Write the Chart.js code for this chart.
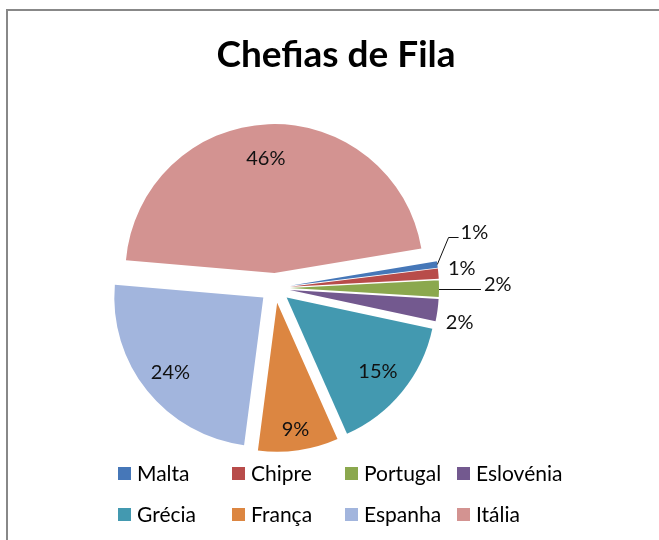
<!DOCTYPE html>
<html>
<head>
<meta charset="utf-8">
<script src="https://cdn.jsdelivr.net/npm/chart.js@4.4.1/dist/chart.umd.min.js"></script>
<style>
  html, body { margin: 0; padding: 0; background: #fff; overflow: hidden; }
  #wrap { position: relative; width: 659px; height: 540px; font-family: Lato, "DejaVu Sans", sans-serif; }
  #frame { position: absolute; left: 6px; top: 9px; width: 700px; height: 600px;
           border-top: 2px solid #888; border-left: 2px solid #888; }
  #title { position: absolute; left: 0; width: 672px; top: 31px; line-height: 44px;
           text-align: center; font-size: 37px; font-weight: bold; color: #000; }
  canvas { position: absolute; left: 0; top: 0; }
  .leg { position: absolute; font-size: 21px; line-height: 24px; color: #000; white-space: nowrap; padding-left: 19px; }
  .leg i { position: absolute; left: 0; top: 6px; width: 13px; height: 13px; }
</style>
</head>
<body>
<div id="wrap">
  <div id="frame"></div>
  <canvas id="pie" width="659" height="540"></canvas>
  <div id="title">Chefias de Fila</div>
  <div id="legend"></div>
</div>
<script>
const labels = ['Malta', 'Chipre', 'Portugal', 'Eslovénia', 'Grécia', 'França', 'Espanha', 'Itália'];
const shares = [0.7, 1.1, 1.8, 2.4, 15.0, 8.7, 24.3, 46.0];
const colors = ['#4677B8', '#B84C4A', '#8BA84E', '#73598F', '#4399B0', '#DC8641', '#A2B5DD', '#D39391'];

const explodePx = 15;
// where each percentage label sits: fraction of radius, angle tweak (deg), leader line type
const labelPlace = [
    { r: 1.29, da: -8, leader: 'elbow' },
    { r: 1.16, da: -1 },
    { leader: 'straight' },
    { r: 1.16, da: 3 },
    { r: 0.79, da: 0 },
    { r: 0.86, da: 0 },
    { r: 0.80, da: 0 },
    { r: 0.77, da: -2 }
];

const total = shares.reduce((s, v) => s + v, 0);

// legend, 4 columns x 2 rows like the original
const legendCols = [118, 232, 345, 457];
const legendRows = [461, 502];
const legendEl = document.getElementById('legend');
labels.forEach((name, i) => {
    const d = document.createElement('div');
    d.className = 'leg';
    d.style.left = legendCols[i % 4] + 'px';
    d.style.top = legendRows[Math.floor(i / 4)] + 'px';
    d.innerHTML = `<i style="background:${colors[i]}"></i>${name}`;
    legendEl.appendChild(d);
});

// pull every slice outward from the centre
const explodePlugin = {
    id: 'explode',
    afterDatasetUpdate(chart, args) {
        args.meta.data.forEach(arc => {
            const mid = (arc.startAngle + arc.endAngle) / 2;
            arc.x += Math.cos(mid) * explodePx;
            arc.y += Math.sin(mid) * explodePx;
        });
    }
};

// percentage labels
const pctPlugin = {
    id: 'pctLabels',
    afterDatasetsDraw(chart) {
        const ctx = chart.ctx;
        const arcs = chart.getDatasetMeta(0).data;
        ctx.save();
        ctx.font = '20px Lato, "DejaVu Sans", sans-serif';
        ctx.fillStyle = '#111';
        ctx.strokeStyle = '#111';
        ctx.lineWidth = 1;
        ctx.textAlign = 'center';
        ctx.textBaseline = 'middle';
        arcs.forEach((arc, i) => {
            const txt = Math.round(shares[i] / total * 100) + '%';
            const p = labelPlace[i];
            const mid = (arc.startAngle + arc.endAngle) / 2;
            const R = arc.outerRadius;
            const w = ctx.measureText(txt).width;
            if (p.leader === 'straight') {
                const ex = arc.x + Math.cos(mid) * R, ey = Math.round(arc.y + Math.sin(mid) * R) + 0.5;
                const left = ex + 45;
                ctx.beginPath();
                ctx.moveTo(ex, ey);
                ctx.lineTo(left - 3, ey);
                ctx.stroke();
                ctx.fillText(txt, left + w / 2, ey - 5);
                return;
            }
            const a = mid + p.da * Math.PI / 180;
            const cx = arc.x + Math.cos(a) * R * p.r;
            const cy = arc.y + Math.sin(a) * R * p.r;
            if (p.leader === 'elbow') {
                const ex = arc.x + Math.cos(mid) * R, ey = arc.y + Math.sin(mid) * R;
                const left = cx - w / 2;
                const ly = Math.round(cy + 5) + 0.5;
                ctx.beginPath();
                ctx.moveTo(ex, ey);
                ctx.lineTo(left - 12, ly);
                ctx.lineTo(left - 2, ly);
                ctx.stroke();
            }
            ctx.fillText(txt, cx, cy);
        });
        ctx.restore();
    }
};

new Chart(document.getElementById('pie'), {
    type: 'pie',
    data: {
        labels: labels,
        datasets: [{
            data: shares,
            backgroundColor: colors,
            borderWidth: 0
        }]
    },
    options: {
        responsive: false,
        animation: false,
        events: [],
        rotation: 80.5,
        radius: 149,
        layout: { padding: { left: 0, right: 109, top: 100, bottom: 64 } },
        plugins: {
            legend: { display: false },
            title: { display: false },
            tooltip: { enabled: false }
        }
    },
    plugins: [explodePlugin, pctPlugin]
});
</script>
</body>
</html>
